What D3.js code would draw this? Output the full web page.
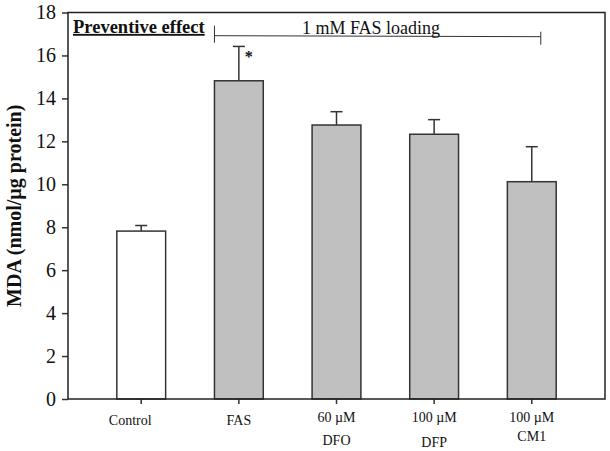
<!DOCTYPE html>
<html>
<head>
<meta charset="utf-8">
<script src="https://cdn.jsdelivr.net/npm/d3@7"></script>
<style>
  body { margin: 0; background: #fff; }
  svg text { font-family: "Liberation Serif", "Times New Roman", serif; fill: #111; }
</style>
</head>
<body>
<div id="chart"></div>
<script>
"use strict";

// data
var categories = ["Control", "FAS", "60 µM DFO", "100 µM DFP", "100 µM CM1"];
var labelLine1 = ["Control", "FAS", "60 µM", "100 µM", "100 µM"];
var labelLine2 = ["", "", "DFO", "DFP", "CM1"];
var means = [7.82, 14.82, 12.76, 12.33, 10.12];
var errors = [0.26, 1.6, 0.62, 0.68, 1.63];
var fills = ["#ffffff", "#c0c0c0", "#c0c0c0", "#c0c0c0", "#c0c0c0"];
var yTicks = [0, 2, 4, 6, 8, 10, 12, 14, 16, 18];

var width = 610, height = 451;
var margin = {top: 12.5, right: 5, bottom: 52, left: 68};
var plotW = width - margin.left - margin.right;
var plotH = height - margin.top - margin.bottom;

var svg = d3.select("#chart").append("svg")
    .attr("width", width)
    .attr("height", height);

var g = svg.append("g")
    .attr("transform", "translate(" + margin.left + "," + margin.top + ")");

var x = d3.scaleBand()
    .domain(categories)
    .range([0, plotW])
    .paddingInner(0.5)
    .paddingOuter(0.5);

var y = d3.scaleLinear()
    .domain([0, 18])
    .range([plotH, 0]);

// bars
g.selectAll("rect.bar")
    .data(categories)
    .enter()
    .append("rect")
    .attr("class", "bar")
    .attr("x", function(d){ return x(d); })
    .attr("y", function(d, i){ return y(means[i]); })
    .attr("width", x.bandwidth())
    .attr("height", function(d, i){ return plotH - y(means[i]); })
    .style("fill", function(d, i){ return fills[i]; })
    .style("stroke", "#333")
    .style("stroke-width", 1.5);

// error bars (upper only)
var cap = 6;
g.selectAll("line.err")
    .data(categories)
    .enter()
    .append("line")
    .attr("x1", function(d){ return x(d) + x.bandwidth() / 2; })
    .attr("x2", function(d){ return x(d) + x.bandwidth() / 2; })
    .attr("y1", function(d, i){ return y(means[i]); })
    .attr("y2", function(d, i){ return y(means[i] + errors[i]); })
    .style("stroke", "#333")
    .style("stroke-width", 1.5);

g.selectAll("line.cap")
    .data(categories)
    .enter()
    .append("line")
    .attr("x1", function(d){ return x(d) + x.bandwidth() / 2 - cap; })
    .attr("x2", function(d){ return x(d) + x.bandwidth() / 2 + cap; })
    .attr("y1", function(d, i){ return y(means[i] + errors[i]); })
    .attr("y2", function(d, i){ return y(means[i] + errors[i]); })
    .style("stroke", "#333")
    .style("stroke-width", 1.5);

// significance star on FAS
g.append("text")
    .attr("x", x("FAS") + x.bandwidth() / 2 + 10)
    .attr("y", y(means[1] + errors[1]) + 16)
    .attr("text-anchor", "middle")
    .style("font-size", "16px")
    .style("font-weight", "bold")
    .text("*");

// y axis
var yAxis = d3.axisLeft(y)
    .tickValues(yTicks)
    .tickSize(6)
    .tickPadding(6);

var ya = g.append("g")
    .attr("font-family", "Liberation Serif")
    .call(yAxis);
ya.select(".domain").remove();
ya.selectAll(".tick line").style("stroke", "#333").style("stroke-width", 1.5);
ya.selectAll(".tick text")
    .style("font-size", "20px")
    .style("fill", "#111");

// x axis ticks
var xAxis = d3.axisBottom(x)
    .tickSize(5)
    .tickFormat("");

var xa = g.append("g")
    .attr("transform", "translate(0," + plotH + ")")
    .call(xAxis);
xa.select(".domain").remove();
xa.selectAll(".tick line").style("stroke", "#333").style("stroke-width", 1.5);

// category labels, two lines
var labelOffsets = [-11, 0, 0, 0, 0];
var line2Y = [0, 0, 46, 48, 42];
g.selectAll("text.xl1")
    .data(categories)
    .enter()
    .append("text")
    .attr("x", function(d, i){ return x(d) + x.bandwidth() / 2 + labelOffsets[i]; })
    .attr("y", function(d, i){ return plotH + (i >= 2 ? 23 : 26); })
    .attr("text-anchor", "middle")
    .style("font-size", "14px")
    .text(function(d, i){ return labelLine1[i]; });

g.selectAll("text.xl2")
    .data(categories)
    .enter()
    .append("text")
    .attr("x", function(d){ return x(d) + x.bandwidth() / 2; })
    .attr("y", function(d, i){ return plotH + line2Y[i]; })
    .attr("text-anchor", "middle")
    .style("font-size", "14px")
    .text(function(d, i){ return labelLine2[i]; });

// frame
g.append("rect")
    .attr("x", 0)
    .attr("y", 0)
    .attr("width", plotW)
    .attr("height", plotH)
    .style("fill", "none")
    .style("stroke", "#222")
    .style("stroke-width", 1.5);

// y title
svg.append("text")
    .attr("transform", "translate(21," + (margin.top + plotH / 2) + ") rotate(-90)")
    .attr("text-anchor", "middle")
    .style("font-size", "20px")
    .style("font-weight", "bold")
    .text("MDA (nmol/µg protein)");

// annotation: Preventive effect
g.append("text")
    .attr("x", 5)
    .attr("y", y(17.05))
    .style("font-size", "18.5px")
    .style("font-weight", "bold")
    .style("text-decoration", "underline")
    .text("Preventive effect");

// bracket for FAS loading
var bracketY = y(16.92);
var bx1 = x("FAS");
var bx2 = x("100 µM CM1") + x.bandwidth() / 2 + 9;
g.append("line")
    .attr("x1", bx1).attr("x2", bx2)
    .attr("y1", bracketY).attr("y2", bracketY + 1)
    .style("stroke", "#333").style("stroke-width", 1);
g.append("line")
    .attr("x1", bx1).attr("x2", bx1)
    .attr("y1", bracketY - 10).attr("y2", bracketY + 7)
    .style("stroke", "#333").style("stroke-width", 1);
g.append("line")
    .attr("x1", bx2).attr("x2", bx2)
    .attr("y1", bracketY - 4).attr("y2", bracketY + 9)
    .style("stroke", "#333").style("stroke-width", 1);

g.append("text")
    .attr("x", 371 - margin.left)
    .attr("y", bracketY - 1.5)
    .attr("text-anchor", "middle")
    .style("font-size", "18px")
    .text("1 mM FAS loading");
</script>
</body>
</html>
